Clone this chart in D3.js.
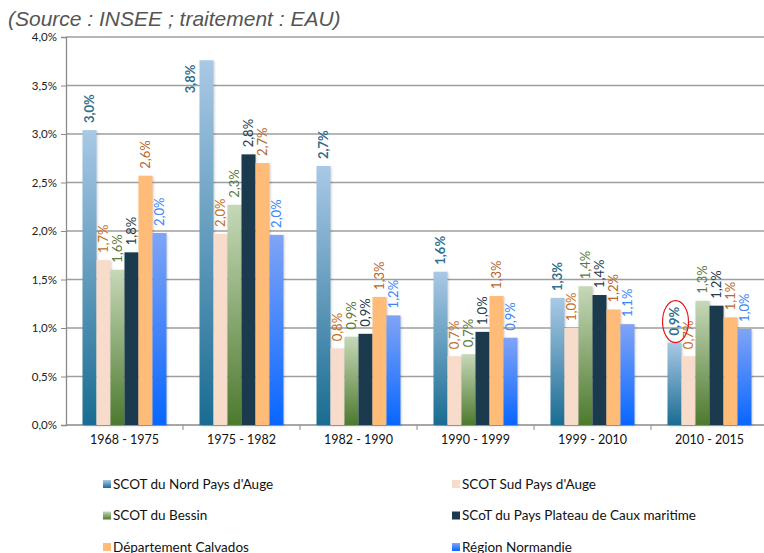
<!DOCTYPE html>
<html>
<head>
<meta charset="utf-8">
<script src="https://cdn.jsdelivr.net/npm/d3@7"></script>
<style>
  body { margin: 0; background: #fff; }
  svg text { font-family: Lato, "Open Sans", sans-serif; }
</style>
</head>
<body>
<div id="chart"></div>
<script>
// periods and series
const periods = ['1968 - 1975', '1975 - 1982', '1982 - 1990', '1990 - 1999', '1999 - 2010', '2010 - 2015'];
const seriesNames = ['SCOT du Nord Pays d\'Auge', 'SCOT Sud Pays d\'Auge', 'SCOT du Bessin',
  'SCoT du Pays Plateau de Caux maritime', 'Département Calvados', 'Région Normandie'];

// annual growth rates, %
const nordAuge = [3.04, 3.76, 2.67, 1.58, 1.31, 0.85];
const sudAuge = [1.70, 1.97, 0.79, 0.71, 1.00, 0.71];
const bessin = [1.60, 2.27, 0.91, 0.73, 1.43, 1.28];
const caux = [1.78, 2.79, 0.94, 0.96, 1.34, 1.23];
const calvados = [2.57, 2.70, 1.32, 1.33, 1.19, 1.11];
const normandie = [1.98, 1.96, 1.13, 0.90, 1.04, 0.99];

// labels shown above the bars
const nordLabels = ['3,0%', '3,8%', '2,7%', '1,6%', '1,3%', '0,9%'];
const sudLabels = ['1,7%', '2,0%', '0,8%', '0,7%', '1,0%', '0,7%'];
const bessinLabels = ['1,6%', '2,3%', '0,9%', '0,7%', '1,4%', '1,3%'];
const cauxLabels = ['1,8%', '2,8%', '0,9%', '1,0%', '1,4%', '1,2%'];
const calvadosLabels = ['2,6%', '2,7%', '1,3%', '1,3%', '1,2%', '1,1%'];
const normandieLabels = ['2,0%', '2,0%', '1,2%', '0,9%', '1,1%', '1,0%'];

const yTicks = [0, 0.5, 1, 1.5, 2, 2.5, 3, 3.5, 4];

const allValues = [nordAuge, sudAuge, bessin, caux, calvados, normandie];
const allLabels = [nordLabels, sudLabels, bessinLabels, cauxLabels, calvadosLabels, normandieLabels];

const width = 764, height = 553;
const plotLeft = 66, plotTop = 37, plotBottom = 425;

const fills = ['url(#gNord)', '#f8dccb', 'url(#gBessin)', '#1b3a4d', '#ffbb78', 'url(#gNormandie)'];
const labelColors = ['#2f6f8f', '#c46f28', '#5b7a3d', '#1f3a4c', '#b5662c', '#3d85f5'];
const legendFills = fills;

const svg = d3.select('#chart').append('svg')
  .attr('width', width)
  .attr('height', height);

const defs = svg.append('defs');
function grad(id, c1, c2) {
  const g = defs.append('linearGradient').attr('id', id)
    .attr('x1', 0).attr('y1', 0).attr('x2', 0).attr('y2', 1);
  g.append('stop').attr('offset', '0%').attr('stop-color', c1);
  g.append('stop').attr('offset', '100%').attr('stop-color', c2);
}
grad('gNord', '#a9c9e6', '#1a6c92');
grad('gBessin', '#c6d8b8', '#4d7a2e');
grad('gNormandie', '#80a4f6', '#0866ff');

// subtitle
svg.append('text')
  .attr('x', 8).attr('y', 26)
  .style('font-family', 'Liberation Sans, Arial, sans-serif')
  .style('font-style', 'italic')
  .style('font-size', '21px')
  .attr('fill', '#555')
  .text('(Source : INSEE ; traitement : EAU)');

const y = d3.scaleLinear().domain([0, 4]).range([plotBottom, plotTop]);
const x0 = d3.scaleBand().domain(periods).range([plotLeft, plotLeft + 6 * 117]);
const x1 = d3.scaleBand().domain(d3.range(6)).range([0, x0.bandwidth()])
  .paddingInner(0).paddingOuter(1.18);

// grid
svg.append('g')
  .selectAll('line')
  .data(yTicks.filter(d => d > 0))
  .enter()
  .append('line')
  .attr('x1', plotLeft).attr('x2', width)
  .attr('y1', d => y(d)).attr('y2', d => y(d))
  .attr('stroke', '#9e9e9e')
  .attr('stroke-width', 1.3);

// y axis
const yAxis = d3.axisLeft(y)
  .tickValues(yTicks)
  .tickSize(5)
  .tickFormat(d => d.toFixed(1).replace('.', ',') + '%');

const yG = svg.append('g')
  .attr('transform', 'translate(' + plotLeft + ',0)')
  .call(yAxis);
yG.select('.domain').attr('stroke', '#8a8a8a').attr('stroke-width', 1.3);
yG.selectAll('.tick line').attr('stroke', '#8a8a8a');
yG.selectAll('text').style('font-size', '11.5px').attr('fill', '#222').attr('x', -9);

// x axis
const xG = svg.append('g')
  .attr('transform', 'translate(0,' + plotBottom + ')');
xG.append('line')
  .attr('x1', plotLeft).attr('x2', width)
  .attr('stroke', '#8a8a8a').attr('stroke-width', 1.3);
xG.selectAll('line.tk')
  .data(periods.slice(1))
  .enter()
  .append('line')
  .attr('class', 'tk')
  .attr('x1', d => x0(d)).attr('x2', d => x0(d))
  .attr('y1', 0).attr('y2', 5)
  .attr('stroke', '#8a8a8a');
xG.selectAll('text')
  .data(periods)
  .enter()
  .append('text')
  .attr('x', d => x0(d) + x0.bandwidth() / 2)
  .attr('y', 19)
  .attr('text-anchor', 'middle')
  .style('font-size', '12.5px')
  .attr('fill', '#111')
  .text(d => d);

// bars
const groups = svg.append('g')
  .selectAll('g')
  .data(periods)
  .enter()
  .append('g')
  .attr('transform', d => 'translate(' + x0(d) + ',0)');

groups.selectAll('rect')
  .data((p, pi) => allValues.map((vals, si) => ({ si: si, v: vals[pi], label: allLabels[si][pi] })))
  .enter()
  .append('rect')
  .attr('x', d => x1(d.si))
  .attr('y', d => y(d.v))
  .attr('width', x1.bandwidth())
  .attr('height', d => plotBottom - y(d.v))
  .attr('fill', d => fills[d.si])
  .style('filter', 'drop-shadow(1px 1px 1px rgba(0,0,0,0.18))');

groups.selectAll('text')
  .data((p, pi) => allValues.map((vals, si) => ({ si: si, v: vals[pi], label: allLabels[si][pi] })))
  .enter()
  .append('text')
  .attr('transform', d => {
    let cx = x1(d.si) + x1.bandwidth() / 2 + 4.5;
    let cy = y(d.v) - 7;
    // not enough room above: put it beside the bar
    if (cy - 28 < plotTop) { cx -= x1.bandwidth() + 2; cy = y(d.v) + 33; }
    return 'translate(' + cx + ',' + cy + ') rotate(-90)';
  })
  .attr('text-anchor', 'start')
  .style('font-size', '13px')
  .style('font-weight', d => d.si === 0 ? 'bold' : 'normal')
  .attr('fill', d => labelColors[d.si])
  .text(d => d.label);

// red circle round the last value of the Nord Pays d'Auge
svg.append('ellipse')
  .attr('cx', x0(periods[5]) + x1(0) + x1.bandwidth() / 2 + 1)
  .attr('cy', y(nordAuge[5]) - 21)
  .attr('rx', 13).attr('ry', 21)
  .attr('fill', 'none')
  .attr('stroke', '#e3191c')
  .attr('stroke-width', 1.2);

// legend
const legend = svg.append('g')
  .selectAll('g')
  .data(seriesNames)
  .enter()
  .append('g')
  .attr('transform', (d, i) => 'translate(' + (i % 2 === 0 ? 103 : 452) + ',' + (480 + Math.floor(i / 2) * 31.5) + ')');

legend.append('rect')
  .attr('width', 8).attr('height', 8)
  .attr('fill', (d, i) => legendFills[i]);

legend.append('text')
  .attr('x', 10).attr('y', 8.5)
  .style('font-size', '13.5px')
  .attr('fill', '#111')
  .text(d => d);
</script>
</body>
</html>
